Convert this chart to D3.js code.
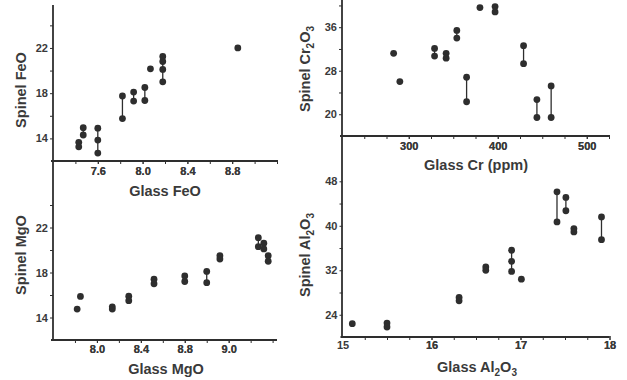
<!DOCTYPE html>
<html>
<head>
<meta charset="utf-8">
<script src="https://cdn.jsdelivr.net/npm/d3@7"></script>
<style>
  html, body { margin: 0; padding: 0; background: #fff; }
  svg { display: block; }
  text { font-family: "Liberation Sans", Arial, sans-serif; font-weight: bold; fill: #3a3a3a; }
</style>
</head>
<body>
<svg id="chart" width="627" height="380"></svg>
<script>
// ---- Data ----
// Panel 1: Glass FeO vs Spinel FeO
const feoGlass  = [7.43, 7.47, 7.6, 7.82, 7.92, 8.02, 8.07, 8.18, 8.85];
const feoSpinel = [[13.65, 13.25], [14.95, 14.3], [14.9, 13.85, 12.7], [17.75, 15.75], [18.1, 17.3],
                   [18.5, 17.35], [20.15], [21.25, 20.8, 20.1, 19.0], [22.0]];
// Panel 2: Glass Cr (ppm) vs Spinel Cr2O3
const crGlass  = [283, 290, 329, 342, 354, 365, 380, 397, 429, 444, 460];
const crSpinel = [[31.2], [26.0], [32.1, 30.7], [31.2, 30.3], [35.4, 34.0], [26.8, 22.3], [39.6],
                  [39.8, 38.8], [32.6, 29.3], [22.7, 19.4], [25.2, 19.4]];
// Panel 3: Glass MgO vs Spinel MgO
const mgoGlass  = [7.82, 7.85, 8.14, 8.29, 8.52, 8.80, 9.0, 9.12, 9.47, 9.52, 9.56];
const mgoSpinel = [[14.75], [15.87], [14.95, 14.75], [15.9, 15.5], [17.4, 17.0], [17.7, 17.2],
                   [18.1, 17.1], [19.5, 19.2], [21.1, 20.3], [20.6, 20.1], [19.5, 19.0]];
// Panel 4: Glass Al2O3 vs Spinel Al2O3
const alGlass  = [15.11, 15.5, 16.31, 16.61, 16.9, 17.01, 17.41, 17.51, 17.6, 17.91];
const alSpinel = [[22.4], [22.5, 21.8], [27.1, 26.5], [32.6, 32.0], [35.6, 33.6, 31.8], [30.4],
                  [46.1, 40.7], [45.1, 42.7], [39.5, 38.9], [41.6, 37.5]];

// ---- Tick values and labels ----
const feoXTicks = [7.4, 7.6, 7.8, 8.0, 8.2, 8.4, 8.6, 8.8, 9.0, 9.2];
const feoXLabels = {7.6: "7.6", 8.0: "8.0", 8.4: "8.4", 8.8: "8.8"};
const feoYTicks = [14, 16, 18, 20, 22, 24];
const feoYLabels = {14: "14", 18: "18", 22: "22"};

const crXTicks = [250, 275, 300, 325, 350, 375, 400, 425, 450, 475, 500, 525];
const crXLabels = {300: "300", 400: "400", 500: "500"};
const crYTicks = [20, 24, 28, 32, 36, 40];
const crYLabels = {20: "20", 28: "28", 36: "36"};

const mgoXTicks = [7.8, 8.0, 8.2, 8.4, 8.6, 8.8, 9.0, 9.2, 9.4, 9.6];
const mgoXLabels = {8.0: "8.0", 8.4: "8.4", 8.8: "8.8", 9.2: "9.0"};
const mgoYTicks = [14, 16, 18, 20, 22, 24];
const mgoYLabels = {14: "14", 18: "18", 22: "22"};

const alXTicks = [15.25, 15.5, 15.75, 16, 16.25, 16.5, 16.75, 17, 17.25, 17.5, 17.75, 18];
const alXLabels = {15: "15", 16: "16", 17: "17", 18: "18"};
const alYTicks = [24, 28, 32, 36, 40, 44, 48];
const alYLabels = {24: "24", 32: "32", 40: "40", 48: "48"};

// ---- Drawing ----
const svg = d3.select("#chart");
const ink = "#2e2e2e";

const panels = [
  { gx: feoGlass, gy: feoSpinel,
    x: d3.scaleLinear().domain([7.2, 9.2]).range([53, 277]),
    y: d3.scaleLinear().domain([12, 25.8]).range([161, 5]),
    xt: feoXTicks, xl: feoXLabels, yt: feoYTicks, yl: feoYLabels, xpad: 3,
    xTitle: [["Glass FeO"]], yTitle: [["Spinel FeO"]],
    xTitlePos: [165, 196], yTitlePos: [26, 90] },
  { gx: crGlass, gy: crSpinel,
    x: d3.scaleLinear().domain([225, 525]).range([342, 609]),
    y: d3.scaleLinear().domain([16, 41]).range([136, 0]),
    xt: crXTicks, xl: crXLabels, yt: crYTicks, yl: crYLabels, xpad: 3,
    xTitle: [["Glass Cr (ppm)"]], yTitle: [["Spinel Cr"], ["2", "sub"], ["O"], ["3", "sub"]],
    xTitlePos: [476, 170], yTitlePos: [310, 69] },
  { gx: mgoGlass, gy: mgoSpinel,
    x: d3.scaleLinear().domain([7.6, 9.64]).range([53, 277]),
    y: d3.scaleLinear().domain([12, 22]).range([340, 227.5]),
    xt: mgoXTicks, xl: mgoXLabels, yt: mgoYTicks, yl: mgoYLabels, xpad: 2,
    xTitle: [["Glass MgO"]], yTitle: [["Spinel MgO"]],
    xTitlePos: [166, 374], yTitlePos: [26, 255] },
  { gx: alGlass, gy: alSpinel,
    x: d3.scaleLinear().domain([15, 18]).range([342.5, 609.5]),
    y: d3.scaleLinear().domain([20, 48]).range([337, 181.3]),
    xt: alXTicks, xl: alXLabels, yt: alYTicks, yl: alYLabels, xpad: 1,
    xTitle: [["Glass Al"], ["2", "sub"], ["O"], ["3", "sub"]], yTitle: [["Spinel Al"], ["2", "sub"], ["O"], ["3", "sub"]],
    xTitlePos: [477, 372], yTitlePos: [310, 255] }
];

// continuous vertical axis lines for each column
const colLines = [
  { x: panels[0].x.range()[0], y1: panels[0].y.range()[1], y2: panels[2].y.range()[0] },
  { x: panels[1].x.range()[0], y1: panels[1].y.range()[1], y2: panels[3].y.range()[0] }
];
svg.selectAll("line.col").data(colLines).enter().append("line")
  .attr("class", "col")
  .attr("x1", d => d.x).attr("x2", d => d.x)
  .attr("y1", d => d.y1).attr("y2", d => d.y2)
  .attr("stroke", ink).attr("stroke-width", 1.8);

function addTitle(g, parts, x, y, rotate) {
  const t = g.append("text")
    .attr("text-anchor", "middle")
    .attr("font-size", 14.5)
    .attr("transform", rotate ? `translate(${x},${y}) rotate(-90)` : `translate(${x},${y})`);
  parts.forEach(p => {
    const s = t.append("tspan").text(p[0]);
    if (p[1] === "sub") s.attr("font-size", 10).attr("dy", 4);
    else if (t.selectAll("tspan").size() > 1) s.attr("dy", -4);
  });
}

panels.forEach(p => {
  const g = svg.append("g");
  const y0 = p.y.range()[0];
  const x0 = p.x.range()[0];

  // x axis
  const xa = d3.axisBottom(p.x)
    .tickValues(p.xt.concat(Object.keys(p.xl).map(Number)))
    .tickSize(3).tickSizeOuter(0).tickPadding(p.xpad)
    .tickFormat(v => p.xl[v] !== undefined ? p.xl[v] : "");
  const gxA = g.append("g").attr("transform", `translate(0,${y0})`).call(xa);
  gxA.select(".domain").attr("stroke", ink).attr("stroke-width", 1.8)
     .attr("d", `M${x0 - 2},0H${p.x.range()[1]}`);
  gxA.selectAll(".tick line").attr("stroke", ink).attr("stroke-width", 1)
     .attr("y1", -1).attr("opacity", (d) => p.xt.includes(d) ? 1 : 0);
  gxA.selectAll(".tick text").attr("font-size", 11).attr("fill", "#3a3a3a")
     .attr("font-family", "Liberation Sans, Arial, sans-serif");

  // y axis (ticks and labels; the line itself is drawn per column)
  const ya = d3.axisLeft(p.y)
    .tickValues(p.yt)
    .tickSize(3).tickSizeOuter(0).tickPadding(2)
    .tickFormat(v => p.yl[v] !== undefined ? p.yl[v] : "");
  const gyA = g.append("g").attr("transform", `translate(${x0},0)`).call(ya);
  gyA.select(".domain").remove();
  gyA.selectAll(".tick line").attr("stroke", ink).attr("stroke-width", 1);
  gyA.selectAll(".tick text").attr("font-size", 11).attr("fill", "#3a3a3a")
     .attr("font-family", "Liberation Sans, Arial, sans-serif");

  // tie lines for groups with multiple analyses
  const groups = p.gx.map((gxv, i) => ({ x: gxv, ys: p.gy[i] }));
  g.selectAll("line.tie").data(groups.filter(d => d.ys.length > 1)).enter().append("line")
    .attr("x1", d => p.x(d.x)).attr("x2", d => p.x(d.x))
    .attr("y1", d => p.y(d3.min(d.ys))).attr("y2", d => p.y(d3.max(d.ys)))
    .attr("stroke", ink).attr("stroke-width", 1.3);

  // points
  const pts = groups.flatMap(d => d.ys.map(v => ({ x: d.x, y: v })));
  g.selectAll("circle").data(pts).enter().append("circle")
    .attr("cx", d => p.x(d.x)).attr("cy", d => p.y(d.y))
    .attr("r", 3.4).attr("fill", ink);

  addTitle(g, p.xTitle, p.xTitlePos[0], p.xTitlePos[1], false);
  addTitle(g, p.yTitle, p.yTitlePos[0], p.yTitlePos[1], true);
});
</script>
</body>
</html>
